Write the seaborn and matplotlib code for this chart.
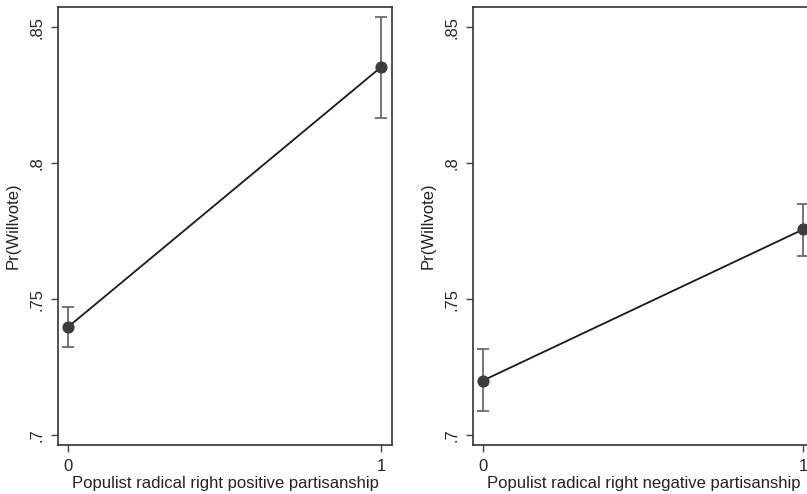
import matplotlib
matplotlib.use("Agg")
import matplotlib.pyplot as plt
import seaborn as sns

# values
x_vals = [0, 1]
pos_mean = [0.7397, 0.8353]
pos_lo = [0.7324, 0.8167]
pos_hi = [0.7470, 0.8538]
neg_mean = [0.7200, 0.7756]
neg_lo = [0.7087, 0.7660]
neg_hi = [0.7315, 0.7849]
y_ticks = [0.70, 0.75, 0.80, 0.85]
y_ticklabels = [".7", ".75", ".8", ".85"]
x_ticklabels = ["0", "1"]
y_title = "Pr(Willvote)"
x_titles = ["Populist radical right positive partisanship",
            "Populist radical right negative partisanship"]

sns.set_style("white")
plt.rcParams['font.family'] = ['Liberation Sans', 'DejaVu Sans']

fig = plt.figure(figsize=(8.07, 4.94), dpi=100)
ax1 = fig.add_axes([0.0719, 0.0992, 0.4139, 0.8866])
ax2 = fig.add_axes([0.5861, 0.0992, 0.4226, 0.8866])

panels = [(ax1, pos_mean, pos_lo, pos_hi, x_titles[0], (-0.032, 1.035)),
          (ax2, neg_mean, neg_lo, neg_hi, x_titles[1], (-0.031, 1.034))]

for ax, mean, lo, hi, xt, xlim in panels:
    err = [[m - l for m, l in zip(mean, lo)], [h - m for m, h in zip(mean, hi)]]
    ax.errorbar(x_vals, mean, yerr=err, fmt='none', ecolor='#6a6a6a',
                elinewidth=1.3, capsize=4, capthick=1.3, zorder=2)
    sns.lineplot(x=x_vals, y=mean, ax=ax, color='#1a1a1a', lw=1.3,
                 marker='o', markersize=8, markerfacecolor='#3c3c3c',
                 markeredgecolor='#3c3c3c', zorder=3)
    ax.set_xlim(*xlim)
    ax.set_ylim(0.6963, 0.8574)
    ax.set_xticks(x_vals)
    ax.set_xticklabels(x_ticklabels, fontsize=12)
    ax.set_yticks(y_ticks)
    ax.set_yticklabels(y_ticklabels, fontsize=12, rotation=90, va='center')
    ax.tick_params(axis='both', direction='out', length=5, width=1,
                   color='#444444', pad=5, bottom=True, left=True)
    ax.set_xlabel(xt, fontsize=12, labelpad=1.5, color='#222222')
    ax.set_ylabel(y_title, fontsize=12, labelpad=6, color='#222222')
    for s in ax.spines.values():
        s.set_color('#333333')
        s.set_linewidth(1.2)

fig.savefig("out.png", dpi=100)
